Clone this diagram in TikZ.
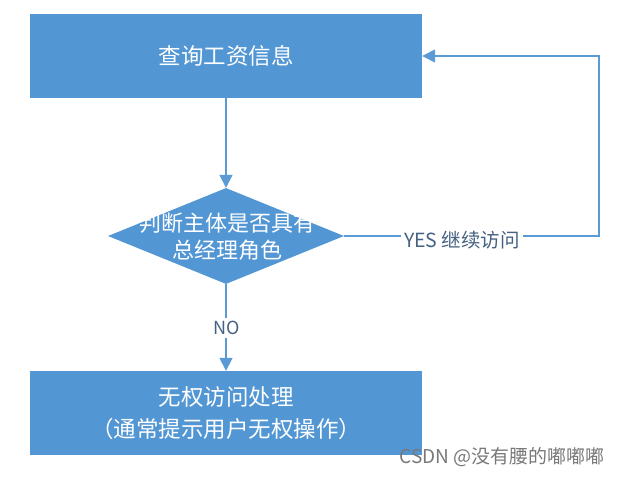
\documentclass[tikz,border=0pt]{standalone}
\usepackage{fontspec}
\newfontfamily\cjk{Noto Sans CJK SC}
\usetikzlibrary{arrows.meta,shapes.geometric}
\definecolor{boxblue}{RGB}{82,150,212}
\definecolor{lineblue}{RGB}{91,155,213}
\definecolor{labelblue}{RGB}{70,98,130}
\definecolor{wmgray}{RGB}{120,120,120}
\begin{document}
\begin{tikzpicture}[x=1pt,y=-1pt,
  procbox/.style={draw=none, fill=boxblue, minimum width=392pt, minimum height=84pt,
    inner sep=0pt, text=white, align=center, font=\cjk\fontsize{22.5}{32}\selectfont},
  decision/.style={diamond, draw=none, fill=boxblue, minimum width=236pt, minimum height=96pt, inner sep=0pt},
  dtext/.style={text=white, align=center, inner sep=0pt, font=\cjk\fontsize{22}{27}\selectfont},
  conn/.style={draw=lineblue, line width=1.6pt, -{Triangle[length=13pt,width=13pt]}},
  lbl/.style={fill=white, text=labelblue, inner sep=3pt, font=\cjk\fontsize{19.5}{21}\selectfont}
]
\useasboundingbox (0,0) rectangle (623,476);

\node[procbox] (query) at (226,56) {查询工资信息};
\node[decision] (dec) at (226,236) {};
\node[dtext] (dectext) at (227,237) {判断主体是否具有\\总经理角色};
\node[procbox] (deny) at (226,413) {无权访问处理\\（通常提示用户无权操作）};

\coordinate (c1) at (599,236);
\coordinate (c2) at (599,56);

\draw[conn] (query.south) -- (dec.north);
\draw[conn] (dec.south) -- (deny.north);
\draw[conn] (dec.east) -- (c1) -- (c2) -- (query.east);

\node[lbl] (yes) at (462,240) {YES 继续访问};
\node[lbl, font=\cjk\fontsize{18}{20}\selectfont] (no) at (227,328) {NO};

\node[text=wmgray, inner sep=0pt, font=\cjk\fontsize{19}{20}\selectfont] (wm) at (502,457) {CSDN @没有腰的嘟嘟嘟};
\end{tikzpicture}
\end{document}
